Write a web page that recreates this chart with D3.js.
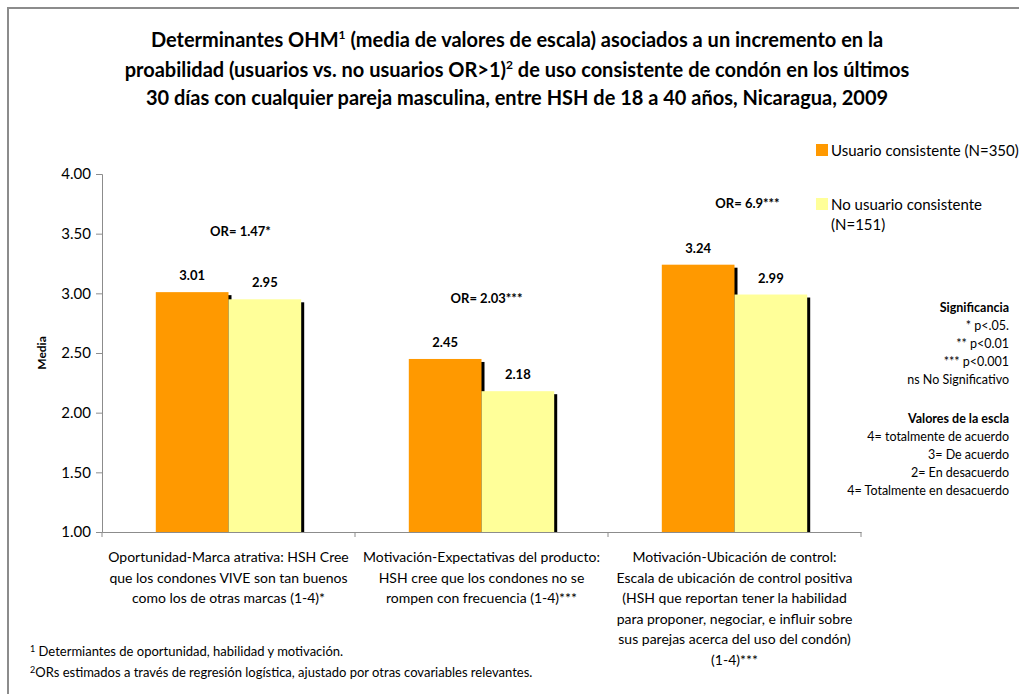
<!DOCTYPE html>
<html>
<head>
<meta charset="utf-8">
<script src="https://cdn.jsdelivr.net/npm/d3@7"></script>
<style>
  body { margin: 0; background: #fff; }
  svg { display: block; font-family: Lato, "Liberation Sans", sans-serif; }
</style>
</head>
<body>
<svg id="chart" width="1019" height="694"></svg>
<script>
// data
var categories = ["opo", "exp", "ubi"];
var categoryLines = [
  ["Oportunidad-Marca atrativa: HSH Cree", "que los condones VIVE son tan buenos", "como los de otras marcas (1-4)*"],
  ["Motivación-Expectativas del producto:", "HSH cree que los condones no se", "rompen con frecuencia (1-4)***"],
  ["Motivación-Ubicación de control:", "Escala de ubicación de control positiva", "(HSH que reportan tener la habilidad", "para proponer, negociar, e influir sobre", "sus parejas acerca del uso del condón)", "(1-4)***"]
];
var seriesNames = ["Usuario consistente (N=350)", "No usuario consistente (N=151)"];
var usuario = [3.01, 2.45, 3.24];
var noUsuario = [2.95, 2.18, 2.99];
var orLabels = ["OR= 1.47*", "OR= 2.03***", "OR= 6.9***"];
var yTicks = [1.00, 1.50, 2.00, 2.50, 3.00, 3.50, 4.00];
var sigLines = ["* p<.05.", "** p<0.01", "*** p<0.001", "ns No Significativo"];
var escalaLines = ["4= totalmente de acuerdo", "3= De acuerdo", "2= En desacuerdo", "4= Totalmente en desacuerdo"];

var colors = ["#FF9900", "#FFFF99"];

var svg = d3.select("#chart");

// outer frame (only top and left edges show)
svg.append("path")
  .attr("d", "M8,700 L8,8 L1030,8")
  .attr("fill", "none")
  .attr("stroke", "#8c8c8c")
  .attr("stroke-width", 2);

// title
var title = svg.append("g").attr("font-weight", "bold").attr("font-size", 20).attr("fill", "#000")
  .attr("text-anchor", "middle");
var t1 = title.append("text").attr("x", 517).attr("y", 47);
t1.append("tspan").text("Determinantes OHM");
t1.append("tspan").attr("font-size", 12).attr("dy", -8).text("1");
t1.append("tspan").attr("dy", 8).text(" (media de valores de escala) asociados a un incremento en la");
var t2 = title.append("text").attr("x", 517).attr("y", 77);
t2.append("tspan").text("proabilidad (usuarios vs. no usuarios OR>1)");
t2.append("tspan").attr("font-size", 12).attr("dy", -8).text("2");
t2.append("tspan").attr("dy", 8).text(" de uso consistente de condón  en los últimos");
title.append("text").attr("x", 517).attr("y", 105)
  .text("30 días con cualquier pareja masculina, entre HSH de 18 a 40 años, Nicaragua, 2009");

// scales
var plot = {left: 102, right: 861, top: 174, bottom: 532};

var y = d3.scaleLinear().domain([1, 4]).range([plot.bottom, plot.top]);
var x = d3.scaleBand().domain(categories).range([plot.left, plot.right]).padding(0);
var xSub = d3.scaleBand().domain([0, 1]).range([0, x.bandwidth()])
  .paddingInner(0).paddingOuter(0.74);

// y axis
var yAxis = d3.axisLeft(y).tickValues(yTicks).tickFormat(d3.format(".2f")).tickSize(6).tickPadding(5);
var gy = svg.append("g").attr("transform", "translate(" + plot.left + ",0)").call(yAxis);
gy.selectAll("path, line").attr("stroke", "#8c8c8c");
gy.selectAll("text").attr("font-size", 15).attr("fill", "#000").style("font-family", "Lato, 'Liberation Sans', sans-serif");

svg.append("text")
  .attr("transform", "translate(46," + y(2.5) + ") rotate(-90)")
  .attr("text-anchor", "middle")
  .attr("font-size", 12).attr("font-weight", "bold")
  .text("Media");

// bars with black drop shadow
var barData = [];
categories.forEach(function(c, i){
  barData.push({cat: c, s: 0, v: usuario[i]});
  barData.push({cat: c, s: 1, v: noUsuario[i]});
});

var bars = svg.append("g").selectAll("g").data(barData).enter().append("g");

bars.append("rect")
  .attr("x", function(d){ return x(d.cat) + xSub(d.s) + 3; })
  .attr("y", function(d){ return y(d.v) + 3; })
  .attr("width", xSub.bandwidth())
  .attr("height", function(d){ return y(1) - y(d.v) - 3; })
  .attr("fill", "#000");

bars.append("rect")
  .attr("x", function(d){ return x(d.cat) + xSub(d.s); })
  .attr("y", function(d){ return y(d.v); })
  .attr("width", xSub.bandwidth())
  .attr("height", function(d){ return y(1) - y(d.v); })
  .attr("fill", function(d){ return colors[d.s]; });

// yellow bars sit over the orange bar's shadow
bars.filter(function(d){ return d.s === 1; }).raise();

bars.append("text")
  .attr("x", function(d){ return x(d.cat) + xSub(d.s) + xSub.bandwidth() / 2; })
  .attr("y", function(d){ return y(d.v) - 12; })
  .attr("text-anchor", "middle")
  .attr("font-size", 13).attr("font-weight", "bold")
  .text(function(d){ return d.v.toFixed(2); });

// OR labels (vertical position in scale units)
var orAt = [3.52, 2.96, 3.76];
var orDx = [12, 5, 13];
svg.append("g").selectAll("text").data(orLabels).enter().append("text")
  .attr("x", function(d, i){ return x(categories[i]) + x.bandwidth() / 2 + orDx[i]; })
  .attr("y", function(d, i){ return y(orAt[i]) + 5; })
  .attr("text-anchor", "middle")
  .attr("font-size", 13).attr("font-weight", "bold")
  .text(function(d){ return d; });

// x axis
var xAxis = d3.axisBottom(x).tickSize(0).tickFormat("");
var gx = svg.append("g").attr("transform", "translate(0," + plot.bottom + ")").call(xAxis);
gx.select("path").attr("stroke", "#8c8c8c");
var bounds = categories.map(function(c){ return x(c); }).concat([plot.right]);
gx.selectAll("line.sep").data(bounds).enter().append("line")
  .attr("class", "sep")
  .attr("x1", function(d){ return d; }).attr("x2", function(d){ return d; })
  .attr("y1", 0).attr("y2", 5)
  .attr("stroke", "#8c8c8c");

var xl = svg.append("g").attr("font-size", 14).attr("text-anchor", "middle");
categoryLines.forEach(function(lines, i){
  var t = xl.append("text").attr("x", x(categories[i]) + x.bandwidth() / 2).attr("y", plot.bottom + 30);
  lines.forEach(function(l, j){
    t.append("tspan").attr("x", x(categories[i]) + x.bandwidth() / 2).attr("dy", j ? 20.6 : 0).text(l);
  });
});

// legend
var lg = svg.append("g").attr("font-size", 15);
lg.append("rect").attr("x", 816).attr("y", 144).attr("width", 12).attr("height", 12).attr("fill", colors[0]);
lg.append("text").attr("x", 831).attr("y", 156).text(seriesNames[0]);
lg.append("rect").attr("x", 816).attr("y", 198).attr("width", 12).attr("height", 12).attr("fill", colors[1]);
lg.append("text").attr("x", 831).attr("y", 210).text("No usuario consistente");
lg.append("text").attr("x", 831).attr("y", 230).text("(N=151)");

// notes on the right
var notes = svg.append("g").attr("font-size", 12.5).attr("text-anchor", "end");
notes.append("text").attr("x", 1009).attr("y", 312).attr("font-weight", "bold").text("Significancia");
sigLines.forEach(function(s, i){
  notes.append("text").attr("x", 1009).attr("y", 330 + i * 18).text(s);
});
notes.append("text").attr("x", 1009).attr("y", 423).attr("font-weight", "bold").text("Valores de la escla");
escalaLines.forEach(function(s, i){
  notes.append("text").attr("x", 1009).attr("y", 441 + i * 18).text(s);
});

// footnotes
var fn = svg.append("g").attr("font-size", 13);
var f1 = fn.append("text").attr("x", 30).attr("y", 656);
f1.append("tspan").attr("font-size", 9).attr("dy", -4).text("1");
f1.append("tspan").attr("dy", 4).text(" Determiantes de oportunidad, habilidad y motivación.");
var f2 = fn.append("text").attr("x", 30).attr("y", 677);
f2.append("tspan").attr("font-size", 9).attr("dy", -4).text("2");
f2.append("tspan").attr("dy", 4).text("ORs estimados a través de regresión logística, ajustado por otras covariables relevantes.");
</script>
</body>
</html>
